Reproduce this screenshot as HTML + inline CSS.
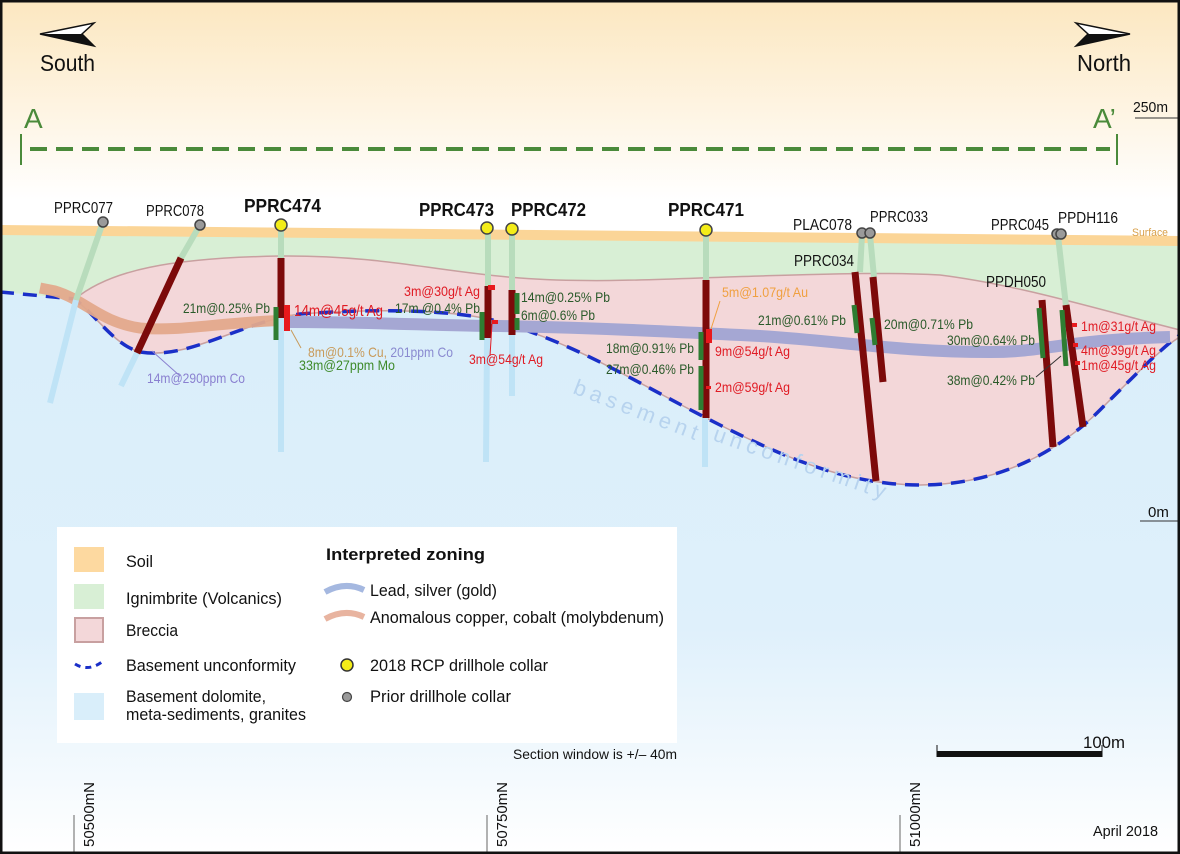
<!DOCTYPE html>
<html><head><meta charset="utf-8"><style>
html,body{margin:0;padding:0;background:#fff}
svg{display:block}
text{font-family:"Liberation Sans",sans-serif}
</style></head><body>
<svg width="1180" height="854" viewBox="0 0 1180 854" xmlns="http://www.w3.org/2000/svg">
<defs>
<linearGradient id="sky" x1="0" y1="0" x2="0" y2="1">
<stop offset="0" stop-color="#fce7c0"/><stop offset="1" stop-color="#ffffff"/></linearGradient>
<linearGradient id="base" x1="0" y1="0" x2="0" y2="1">
<stop offset="0" stop-color="#d9eefa"/><stop offset="0.6" stop-color="#dff0fb"/><stop offset="1" stop-color="#ffffff"/></linearGradient>
</defs>
<rect x="0" y="0" width="1180" height="854" fill="#fff"/>
<rect x="0" y="0" width="1180" height="200" fill="url(#sky)"/>
<path d="M0,292 L75,299 C100,320 115,345 140,352 C190,360 240,322 300,314 C380,308 460,310 500,322 C580,345 640,385 720,425 C790,460 850,485 920,485 C1000,485 1060,450 1100,410 C1140,370 1165,345 1180,335 L1180,854 L0,854 Z" fill="url(#base)"/>
<path d="M0,232 L1180,243 L1180,335 C1165,345 1140,370 1100,410 C1060,450 1000,485 920,485 C850,485 790,460 720,425 C640,385 580,345 500,322 C460,310 380,308 300,314 C240,322 190,360 140,352 C115,345 100,320 75,299 L0,292 Z" fill="#d8efd5"/>
<path d="M0,225 L1180,236 L1180,246 L0,235 Z" fill="#fbd597"/>
<path d="M75,299 C110,270 170,258 280,256 C380,255 440,272 520,278 C600,284 680,278 760,276 C830,274 880,272 940,275 C1020,285 1100,310 1180,330 L1180,337 C1165,345 1140,370 1100,410 C1060,450 1000,485 920,485 C850,485 790,460 720,425 C640,385 580,345 500,322 C460,310 380,308 300,314 C240,322 190,360 140,352 C115,345 100,320 75,299 Z" fill="#f3d7d9" stroke="#c8a0a0" stroke-width="1.5"/>
<path d="M0,292 L75,299 C100,320 115,345 140,352 C190,360 240,322 300,314 C380,308 460,310 500,322 C580,345 640,385 720,425 C790,460 850,485 920,485 C1000,485 1060,450 1100,410 C1140,370 1165,345 1180,335" fill="none" stroke="#1a2fc8" stroke-width="3.5" stroke-dasharray="14,9"/>
<path d="M40,288 L55,291 C85,300 100,322 140,328 C180,332 220,322 292,320" fill="none" stroke="#e3a98c" stroke-width="11" opacity="0.95"/>
<path d="M290,322 C380,322 440,326 500,326 C600,328 680,332 760,336 C840,341 900,352 990,352 C1050,352 1060,340 1170,337" fill="none" stroke="#a5a7d3" stroke-width="12"/>
<g stroke-width="6" stroke-linecap="butt" fill="none">
<line x1="103" y1="222" x2="76" y2="300" stroke="#b8dcbc"/><line x1="76" y1="300" x2="50" y2="403" stroke="#bfe3f6"/>
<line x1="200" y1="225" x2="181" y2="258" stroke="#b8dcbc"/><line x1="137" y1="353" x2="121" y2="386" stroke="#bfe3f6"/>
<line x1="281" y1="228" x2="281" y2="258" stroke="#b8dcbc"/><line x1="281" y1="318" x2="281" y2="452" stroke="#bfe3f6"/>
<line x1="488" y1="230" x2="488" y2="286" stroke="#b8dcbc"/><line x1="487" y1="338" x2="486" y2="462" stroke="#bfe3f6"/>
<line x1="512" y1="231" x2="512" y2="290" stroke="#b8dcbc"/><line x1="512" y1="335" x2="512" y2="396" stroke="#bfe3f6"/>
<line x1="706" y1="232" x2="706" y2="280" stroke="#b8dcbc"/><line x1="705" y1="418" x2="705" y2="467" stroke="#bfe3f6"/>
<line x1="862" y1="235" x2="860" y2="272" stroke="#b8dcbc"/>
<line x1="870" y1="235" x2="874" y2="277" stroke="#b8dcbc"/>
<line x1="1058" y1="236" x2="1066" y2="306" stroke="#b8dcbc"/>
</g>
<g stroke="#7c0a0a" stroke-width="7" fill="none">
<line x1="181" y1="258" x2="137" y2="353"/>
<line x1="281" y1="258" x2="281" y2="318"/>
<line x1="488" y1="286" x2="488" y2="338"/>
<line x1="512" y1="290" x2="512" y2="335"/>
<line x1="706" y1="280" x2="706" y2="418"/>
<line x1="855" y1="272" x2="876" y2="481"/>
<line x1="873" y1="277" x2="883" y2="382"/>
<line x1="1042" y1="300" x2="1053" y2="447"/>
<line x1="1066" y1="305" x2="1083" y2="427"/>
</g>
<g stroke="#2e7d32" stroke-width="5">
<line x1="276" y1="307" x2="276" y2="340"/>
<line x1="482" y1="312" x2="482" y2="340"/>
<line x1="517" y1="293" x2="517" y2="314"/><line x1="517" y1="318" x2="517" y2="330"/>
<line x1="701" y1="332" x2="701" y2="360"/><line x1="701" y1="366" x2="701" y2="410"/>
<line x1="854" y1="305" x2="857" y2="333"/>
<line x1="872" y1="318" x2="875" y2="345"/>
<line x1="1039" y1="308" x2="1043" y2="358"/>
<line x1="1062" y1="310" x2="1066" y2="366"/>
</g>
<g fill="#e8191d">
<rect x="284" y="305" width="6" height="26"/>
<rect x="706" y="329" width="6" height="14"/>
<rect x="488" y="285" width="7" height="5"/>
<rect x="492" y="320" width="6" height="4"/>
<rect x="706" y="386" width="5" height="3"/>
<rect x="1072" y="323" width="5" height="4"/><rect x="1073" y="343" width="5" height="4"/><rect x="1075" y="361" width="5" height="4"/>
</g>
<g stroke="#444" stroke-width="1.5">
<circle cx="103" cy="222" r="5" fill="#9a9a9a"/>
<circle cx="200" cy="225" r="5" fill="#9a9a9a"/>
<circle cx="862" cy="233" r="5" fill="#9a9a9a"/><circle cx="870" cy="233" r="5" fill="#9a9a9a"/>
<circle cx="1057" cy="234" r="5" fill="#9a9a9a"/><circle cx="1061" cy="234" r="5" fill="#9a9a9a"/>
<circle cx="281" cy="225" r="6" fill="#f3ec18"/>
<circle cx="487" cy="228" r="6" fill="#f3ec18"/>
<circle cx="512" cy="229" r="6" fill="#f3ec18"/>
<circle cx="706" cy="230" r="6" fill="#f3ec18"/>
</g>
<g font-size="16" fill="#111">
<text x="54" y="213" textLength="59" lengthAdjust="spacingAndGlyphs">PPRC077</text>
<text x="146" y="216" textLength="58" lengthAdjust="spacingAndGlyphs">PPRC078</text>
<text x="793" y="230" textLength="59" lengthAdjust="spacingAndGlyphs">PLAC078</text>
<text x="870" y="222" textLength="58" lengthAdjust="spacingAndGlyphs">PPRC033</text>
<text x="794" y="266" textLength="60" lengthAdjust="spacingAndGlyphs">PPRC034</text>
<text x="991" y="230" textLength="58" lengthAdjust="spacingAndGlyphs">PPRC045</text>
<text x="1058" y="223" textLength="60" lengthAdjust="spacingAndGlyphs">PPDH116</text>
<text x="986" y="287" textLength="60" lengthAdjust="spacingAndGlyphs">PPDH050</text>
</g>
<g font-size="18" font-weight="bold" fill="#111">
<text x="244" y="212" textLength="77" lengthAdjust="spacingAndGlyphs">PPRC474</text>
<text x="419" y="216" textLength="75" lengthAdjust="spacingAndGlyphs">PPRC473</text>
<text x="511" y="216" textLength="75" lengthAdjust="spacingAndGlyphs">PPRC472</text>
<text x="668" y="216" textLength="76" lengthAdjust="spacingAndGlyphs">PPRC471</text>
</g>
<text x="1132" y="236" font-size="11" fill="#d9a04a" textLength="36" lengthAdjust="spacingAndGlyphs">Surface</text>
<g font-size="14" fill="#2a5a2a">
<text x="183" y="313" textLength="87" lengthAdjust="spacingAndGlyphs">21m@0.25% Pb</text>
<text x="395" y="313" textLength="85" lengthAdjust="spacingAndGlyphs">17m @0.4% Pb</text>
<text x="521" y="302" textLength="89" lengthAdjust="spacingAndGlyphs">14m@0.25% Pb</text>
<text x="521" y="320" textLength="74" lengthAdjust="spacingAndGlyphs">6m@0.6% Pb</text>
<text x="606" y="353" textLength="88" lengthAdjust="spacingAndGlyphs">18m@0.91% Pb</text>
<text x="606" y="374" textLength="88" lengthAdjust="spacingAndGlyphs">27m@0.46% Pb</text>
<text x="758" y="325" textLength="88" lengthAdjust="spacingAndGlyphs">21m@0.61% Pb</text>
<text x="884" y="329" textLength="89" lengthAdjust="spacingAndGlyphs">20m@0.71% Pb</text>
<text x="947" y="345" textLength="88" lengthAdjust="spacingAndGlyphs">30m@0.64% Pb</text>
<text x="947" y="385" textLength="88" lengthAdjust="spacingAndGlyphs">38m@0.42% Pb</text>
<text x="299" y="370" fill="#3e8a2a" textLength="96" lengthAdjust="spacingAndGlyphs">33m@27ppm Mo</text>
</g>
<g font-size="14" fill="#e01b24">
<text x="404" y="296" textLength="76" lengthAdjust="spacingAndGlyphs">3m@30g/t Ag</text>
<text x="469" y="364" textLength="74" lengthAdjust="spacingAndGlyphs">3m@54g/t Ag</text>
<text x="715" y="356" textLength="75" lengthAdjust="spacingAndGlyphs">9m@54g/t Ag</text>
<text x="715" y="392" textLength="75" lengthAdjust="spacingAndGlyphs">2m@59g/t Ag</text>
<text x="1081" y="331" textLength="75" lengthAdjust="spacingAndGlyphs">1m@31g/t Ag</text>
<text x="1081" y="355" textLength="75" lengthAdjust="spacingAndGlyphs">4m@39g/t Ag</text>
<text x="1081" y="370" textLength="75" lengthAdjust="spacingAndGlyphs">1m@45g/t Ag</text>
</g>
<text x="294" y="316" font-size="16" fill="#e01b24" textLength="89" lengthAdjust="spacingAndGlyphs">14m@45g/t Ag</text>
<text x="722" y="297" font-size="14" fill="#f0a040" textLength="86" lengthAdjust="spacingAndGlyphs">5m@1.07g/t Au</text>
<text x="308" y="357" font-size="14" fill="#c89a5a" textLength="145" lengthAdjust="spacingAndGlyphs">8m@0.1% Cu, <tspan fill="#8a8ad0">201ppm Co</tspan></text>
<text x="147" y="383" font-size="14" fill="#8a80d0" textLength="98" lengthAdjust="spacingAndGlyphs">14m@290ppm Co</text>
<g stroke-width="1" fill="none">
<line x1="180" y1="376" x2="152" y2="351" stroke="#8a80d0"/>
<line x1="301" y1="348" x2="291" y2="330" stroke="#c89a5a"/>
<line x1="720" y1="301" x2="711" y2="329" stroke="#f0a040"/>
<line x1="490" y1="356" x2="492" y2="324" stroke="#e01b24"/>
<line x1="1036" y1="377" x2="1061" y2="356" stroke="#333"/>
</g>
<text font-size="22" fill="#b7d3ee" letter-spacing="5" transform="translate(572,393) rotate(21)">basement</text>
<text font-size="22" fill="#b7d3ee" letter-spacing="5" transform="translate(712,440) rotate(19)">unconformity</text>
<text x="24" y="128" font-size="28" fill="#4a8a3a">A</text>
<text x="1093" y="128" font-size="28" fill="#4a8a3a">A’</text>
<line x1="21" y1="134" x2="21" y2="165" stroke="#4a8a3a" stroke-width="2"/>
<line x1="1117" y1="134" x2="1117" y2="165" stroke="#4a8a3a" stroke-width="2"/>
<line x1="30" y1="149" x2="1110" y2="149" stroke="#4a8a3a" stroke-width="4" stroke-dasharray="17,9"/>
<path d="M40,34 L94,23 L82,34 L94,46 Z" fill="#fff" stroke="#111" stroke-width="1.5"/>
<path d="M40,34 L82,34 L94,46 Z" fill="#111"/>
<text x="40" y="71" font-size="23" fill="#111" textLength="55" lengthAdjust="spacingAndGlyphs">South</text>
<path d="M1130,34 L1076,23 L1088,34 L1076,46 Z" fill="#fff" stroke="#111" stroke-width="1.5"/>
<path d="M1130,34 L1088,34 L1076,46 Z" fill="#111"/>
<text x="1077" y="71" font-size="23" fill="#111" textLength="54" lengthAdjust="spacingAndGlyphs">North</text>
<line x1="1135" y1="118" x2="1180" y2="118" stroke="#333" stroke-width="1"/>
<text x="1133" y="112" font-size="15" fill="#111" textLength="35" lengthAdjust="spacingAndGlyphs">250m</text>
<line x1="1140" y1="521" x2="1180" y2="521" stroke="#333" stroke-width="1"/>
<text x="1148" y="517" font-size="15" fill="#111">0m</text>
<rect x="57" y="527" width="620" height="216" fill="#fff"/>
<rect x="74" y="547" width="30" height="25" fill="#fdd9a0"/>
<rect x="74" y="584" width="30" height="25" fill="#d8efd5"/>
<rect x="75" y="618" width="28" height="24" fill="#f3d7d9" stroke="#c8a0a0" stroke-width="2"/>
<path d="M75,664 Q88,672 102,662" fill="none" stroke="#1a2fc8" stroke-width="3" stroke-dasharray="6,5"/>
<rect x="74" y="693" width="30" height="27" fill="#d9eefa"/>
<g font-size="17" fill="#111">
<text x="126" y="567" textLength="27" lengthAdjust="spacingAndGlyphs">Soil</text>
<text x="126" y="604" textLength="156" lengthAdjust="spacingAndGlyphs">Ignimbrite (Volcanics)</text>
<text x="126" y="636" textLength="52" lengthAdjust="spacingAndGlyphs">Breccia</text>
<text x="126" y="671" textLength="170" lengthAdjust="spacingAndGlyphs">Basement unconformity</text>
<text x="126" y="702" textLength="140" lengthAdjust="spacingAndGlyphs">Basement dolomite,</text>
<text x="126" y="720" textLength="180" lengthAdjust="spacingAndGlyphs">meta-sediments, granites</text>
<text x="326" y="560" font-weight="bold" textLength="159" lengthAdjust="spacingAndGlyphs">Interpreted zoning</text>
<text x="370" y="596" textLength="127" lengthAdjust="spacingAndGlyphs">Lead, silver (gold)</text>
<text x="370" y="623" textLength="294" lengthAdjust="spacingAndGlyphs">Anomalous copper, cobalt (molybdenum)</text>
<text x="370" y="671" textLength="178" lengthAdjust="spacingAndGlyphs">2018 RCP drillhole collar</text>
<text x="370" y="702" textLength="141" lengthAdjust="spacingAndGlyphs">Prior drillhole collar</text>
</g>
<path d="M325,592 Q345,581 364,590" fill="none" stroke="#a5b8e0" stroke-width="6"/>
<path d="M325,619 Q345,608 364,617" fill="none" stroke="#e8b4a0" stroke-width="6"/>
<circle cx="347" cy="665" r="6" fill="#f3ec18" stroke="#333" stroke-width="1.5"/>
<circle cx="347" cy="697" r="4.5" fill="#9a9a9a" stroke="#444" stroke-width="1.2"/>
<text x="513" y="759" font-size="14" fill="#111" textLength="164" lengthAdjust="spacingAndGlyphs">Section window is +/– 40m</text>
<rect x="937" y="751" width="165" height="6" fill="#111"/>
<line x1="937" y1="745" x2="937" y2="757" stroke="#111" stroke-width="1"/>
<line x1="1102" y1="745" x2="1102" y2="757" stroke="#111" stroke-width="1"/>
<text x="1083" y="748" font-size="17" fill="#111" textLength="42" lengthAdjust="spacingAndGlyphs">100m</text>
<g stroke="#666" stroke-width="1">
<line x1="74" y1="815" x2="74" y2="854"/><line x1="487" y1="815" x2="487" y2="854"/><line x1="900" y1="815" x2="900" y2="854"/>
</g>
<g font-size="15" fill="#111">
<text transform="translate(94,847) rotate(-90)" textLength="65" lengthAdjust="spacingAndGlyphs">50500mN</text>
<text transform="translate(507,847) rotate(-90)" textLength="65" lengthAdjust="spacingAndGlyphs">50750mN</text>
<text transform="translate(920,847) rotate(-90)" textLength="65" lengthAdjust="spacingAndGlyphs">51000mN</text>
</g>
<text x="1093" y="836" font-size="15" fill="#111" textLength="65" lengthAdjust="spacingAndGlyphs">April 2018</text>
<rect x="1" y="1" width="1178" height="852" fill="none" stroke="#111" stroke-width="3"/>
</svg>
</body></html>
